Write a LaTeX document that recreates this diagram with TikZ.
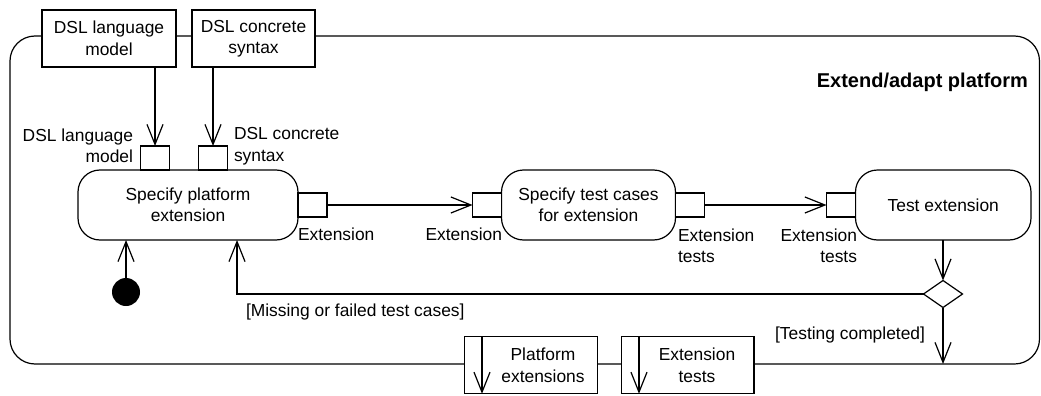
\documentclass[tikz,border=0pt]{standalone}
\usepackage{fontspec}
\setmainfont{Liberation Sans}
\usetikzlibrary{arrows.meta,shapes.geometric}
\tikzset{
  every node/.style={inner sep=0pt, outer sep=0pt},
  txt/.style={font=\fontsize{17.4}{21.5}\selectfont},
  ln/.style={line width=1.2pt},
  open/.style={ln, -{Straight Barb[length=20pt,width=16pt]}},
  objbox/.style={ln, draw, fill=white, txt, align=center},
  pinbox/.style={ln, draw, fill=white, minimum width=29pt, minimum height=24pt},
  action/.style={ln, draw, fill=white, rounded corners=22pt, minimum height=70pt, txt, align=center},
}
\begin{document}
\begin{tikzpicture}[x=1pt,y=-1pt]
\useasboundingbox (0,0) rectangle (1041,396);
% frame
\draw[ln, rounded corners=25pt] (10,36) rectangle (1039.5,364);
\node[txt, font=\fontsize{20}{24}\selectfont\bfseries, anchor=east] (title) at (1028,82) {Extend/adapt platform};
% input objects
\node[objbox, minimum width=134pt, minimum height=57pt] (dslm) at (109,38.5) {DSL language\\model};
\node[objbox, minimum width=123pt, minimum height=57pt] (dslc) at (253.5,38.5) {DSL concrete\\syntax};
% actions
\node[action, minimum width=220pt] (act1) at (188,205) {Specify platform\\extension};
\node[action, minimum width=174pt] (act2) at (588.5,205) {Specify test cases\\for extension};
\node[action, minimum width=175.5pt] (act3) at (943.25,205) {Test extension};
% pins
\node[pinbox] (pa) at (155,158) {};
\node[pinbox] (pb) at (213,158) {};
\node[pinbox] (p1out) at (312.5,205) {};
\node[pinbox] (p2in) at (487,205) {};
\node[pinbox] (p2out) at (690,205) {};
\node[pinbox] (p3in) at (841,205) {};
% pin labels
\node[txt, align=right, anchor=east] (lpa) at (133,146) {DSL language\\model};
\node[txt, align=left, anchor=west] (lpb) at (234,146) {DSL concrete\\syntax};
\node[txt, anchor=west] (lp1) at (298,234) {Extension};
\node[txt, anchor=east] (lp2) at (502,234) {Extension};
\node[txt, align=left, anchor=west] (lp3) at (678,246) {Extension\\tests};
\node[txt, align=right, anchor=east] (lp4) at (857,246) {Extension\\tests};
% initial node and decision
\node[circle, fill=black, minimum size=28pt] (init) at (126,292) {};
\node[diamond, ln, draw, fill=white, minimum width=39pt, minimum height=27pt] (dec) at (943,294) {};
% guards
\node[txt, anchor=west] (g1) at (246,312) {[Missing or failed test cases]};
\node[txt, anchor=east] (g2) at (925,335) {[Testing completed]};
% output objects
\node[objbox, minimum width=133pt, minimum height=57pt] (ope) at (530.8,365.3) {};
\node[txt, align=center] (tope) at (543,365.5) {Platform\\extensions};
\node[objbox, minimum width=132.3pt, minimum height=57pt] (opt) at (687.9,365.3) {};
\node[txt, align=center] (topt) at (697,365.5) {Extension\\tests};
\coordinate (ope1) at (482,336.8);
\coordinate (ope2) at (482,393.8);
\coordinate (opt1) at (639,336.8);
\coordinate (opt2) at (639,393.8);
\draw[open] (ope1) -- (ope2);
\draw[open] (opt1) -- (opt2);
% connectors
\draw[open] (dslm.south -| pa) -- (pa.north);
\draw[open] (dslc.south -| pb) -- (pb.north);
\draw[open] (p1out.east) -- (p2in.west);
\draw[open] (p2out.east) -- (p3in.west);
\draw[open] (act3.south -| dec) -- (dec.north);
\draw[open] (init.north) -- (init |- act1.south);
\coordinate (loopx) at (237,294);
\draw[open] (dec.west) -- (loopx) -- (loopx |- act1.south);
\coordinate (fin) at (943,364);
\draw[open] (dec.south) -- (fin);
\end{tikzpicture}
\end{document}
